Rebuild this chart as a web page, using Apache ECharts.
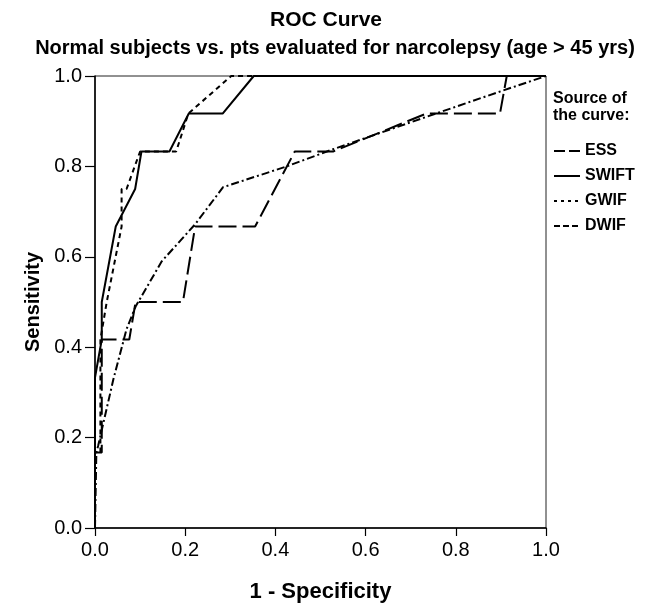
<!DOCTYPE html>
<html>
<head>
<meta charset="utf-8">
<script src="https://cdn.jsdelivr.net/npm/echarts@6/dist/echarts.min.js"></script>
<style>
html,body{margin:0;padding:0;background:#fff;}
#chart{width:669px;height:605px;}
</style>
</head>
<body>
<div id="chart"></div>
<script>
var FONT = "'Liberation Sans',Arial,Helvetica,sans-serif";

var seriesNames = ['ESS', 'SWIFT', 'GWIF', 'DWIF'];
var tickValues = [0.0, 0.2, 0.4, 0.6, 0.8, 1.0];

var essX = [0, 0, 0.015, 0.015, 0.076, 0.09, 0.195, 0.222, 0.355, 0.443, 0.528, 0.735, 0.898, 0.913, 1.0];
var essY = [0, 0.167, 0.167, 0.417, 0.417, 0.5, 0.5, 0.667, 0.667, 0.833, 0.833, 0.917, 0.917, 1.0, 1.0];

var swiftX = [0, 0, 0.015, 0.015, 0.046, 0.089, 0.103, 0.165, 0.208, 0.283, 0.352, 1.0];
var swiftY = [0, 0.333, 0.417, 0.5, 0.667, 0.75, 0.833, 0.833, 0.917, 0.917, 1.0, 1.0];

var gwifX = [0, 0, 0.012, 0.012, 0.026, 0.059, 0.059, 0.07, 0.1, 0.18, 0.207, 0.302, 1.0];
var gwifY = [0, 0.167, 0.167, 0.417, 0.5, 0.667, 0.75, 0.75, 0.833, 0.833, 0.917, 1.0, 1.0];

var dwifX = [0, 0.003, 0.007, 0.041, 0.07, 0.09, 0.148, 0.222, 0.284, 0.425, 0.528, 0.765, 0.905, 1.0];
var dwifY = [0, 0.167, 0.182, 0.33, 0.44, 0.49, 0.59, 0.672, 0.754, 0.80, 0.838, 0.92, 0.968, 1.0];

function zip(xs, ys) { return xs.map(function (x, i) { return [x, ys[i]]; }); }

var dashes = {
  ESS: [18, 6],
  SWIFT: 'solid',
  GWIF: [5, 4],
  DWIF: [8, 3, 2, 3]
};
var legendDashes = {
  ESS: [11, 4],
  SWIFT: 'solid',
  GWIF: [3, 4],
  DWIF: [6, 3]
};
var dataSets = {
  ESS: zip(essX, essY),
  SWIFT: zip(swiftX, swiftY),
  GWIF: zip(gwifX, gwifY),
  DWIF: zip(dwifX, dwifY)
};

var chart = echarts.init(document.getElementById('chart'), null, { renderer: 'canvas' });

function axisCommon(labelMargin, tickLen) {
  return {
    type: 'value',
    min: 0,
    max: 1,
    interval: 0.2,
    splitLine: { show: false },
    axisLine: { show: true, lineStyle: { color: '#000', width: 1.5 } },
    axisTick: { show: true, inside: false, length: tickLen, lineStyle: { color: '#000', width: 1.2 } },
    axisLabel: {
      color: '#000', fontFamily: FONT, fontSize: 20, margin: labelMargin,
      formatter: function (v) { return v.toFixed(1); }
    },
    nameLocation: 'middle'
  };
}

var option = {
  backgroundColor: '#fff',
  animation: false,
  textStyle: { fontFamily: FONT },
  title: [
    {
      text: 'ROC Curve',
      left: 321, top: 5, textAlign: 'center',
      textStyle: { fontFamily: FONT, fontSize: 21, fontWeight: 'bold', color: '#000' }
    },
    {
      text: 'Normal subjects vs. pts evaluated for narcolepsy (age > 45 yrs)',
      left: 330, top: 33, textAlign: 'center',
      textStyle: { fontFamily: FONT, fontSize: 20, fontWeight: 'bold', color: '#000' }
    },
    {
      text: 'Source of\nthe curve:',
      left: 548, top: 85,
      textStyle: { fontFamily: FONT, fontSize: 16, fontWeight: 'bold', color: '#000', lineHeight: 17 }
    }
  ],
  legend: {
    orient: 'vertical',
    left: 548, top: 138,
    itemWidth: 26, itemHeight: 14, itemGap: 9,
    data: seriesNames.map(function (n) {
      return { name: n, lineStyle: { type: legendDashes[n], width: 2, color: '#000' } };
    }),
    itemStyle: { color: 'transparent', borderColor: 'transparent', borderWidth: 0, opacity: 0 },
    textStyle: { fontFamily: FONT, fontSize: 16, fontWeight: 'bold', color: '#000' },
    selectedMode: false
  },
  grid: {
    left: 95, right: 123, top: 76, bottom: 77,
    containLabel: false,
    outerBoundsMode: 'none',
    show: true, borderColor: '#222', borderWidth: 1, backgroundColor: 'transparent'
  },
  xAxis: Object.assign(axisCommon(12, 8), { name: '1 - Specificity', nameGap: 53, nameTextStyle: { color: '#000', fontFamily: FONT, fontSize: 22, fontWeight: 'bold' } }),
  yAxis: Object.assign(axisCommon(13, 10), { name: 'Sensitivity', nameGap: 52, nameTextStyle: { color: '#000', fontFamily: FONT, fontSize: 20, fontWeight: 'bold' } }),
  series: seriesNames.map(function (n) {
    return {
      name: n,
      type: 'line',
      data: dataSets[n],
      showSymbol: false,
      symbol: 'none',
      itemStyle: { color: '#000' },
      lineStyle: { color: '#000', width: 2, type: dashes[n] },
      z: n === 'SWIFT' ? 3 : 2
    };
  })
};

chart.setOption(option);
</script>
</body>
</html>
